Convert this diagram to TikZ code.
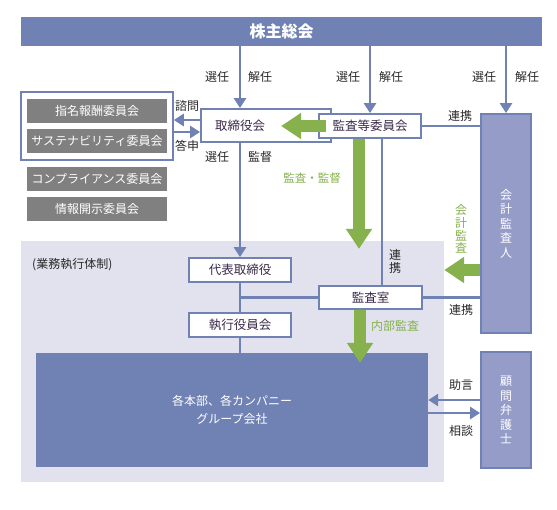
\documentclass[tikz,border=0pt]{standalone}
\usepackage{fontspec}
\setmainfont{Noto Sans CJK JP}
\usetikzlibrary{arrows.meta}
\definecolor{kblue}{RGB}{112,129,180}
\definecolor{klight}{RGB}{149,156,200}
\definecolor{kgray}{RGB}{128,128,128}
\definecolor{kback}{RGB}{226,226,238}
\definecolor{kgreen}{RGB}{134,177,77}
\definecolor{ktext}{RGB}{58,42,74}
\definecolor{klabel}{RGB}{40,40,40}
\begin{document}
\begin{tikzpicture}[x=1pt,y=-1pt,
  wbox/.style={draw=kblue,line width=1.8pt,fill=white,text=ktext,inner sep=0pt,font=\fontsize{12.5}{14}\selectfont},
  gbox/.style={fill=kgray,text=white,minimum width=140pt,minimum height=24pt,inner sep=0pt,font=\fontsize{12}{14}\selectfont},
  lbl/.style={text=klabel,inner sep=0pt,font=\fontsize{12}{14}\selectfont},
  glbl/.style={text=kgreen,inner sep=0pt,font=\fontsize{12}{14}\selectfont},
  vtext/.style={align=center,inner sep=0pt,font=\fontsize{12}{14.5}\selectfont},
  bline/.style={draw=kblue,line width=2.5pt},
  barrow/.style={bline,-{Triangle[width=12pt,length=10pt]}},
  garrow/.style={draw=kgreen,line width=12pt,-{Triangle[width=25pt,length=20pt]}}]
\useasboundingbox (0,0) rectangle (557,509);
% background of the execution block
\node[fill=kback,minimum width=423pt,minimum height=241pt,inner sep=0pt] (gyomu) at (232.5,361.5) {};
\node[fill=kblue,text=white,minimum width=521pt,minimum height=29pt,inner sep=0pt,font=\fontsize{16}{18}\selectfont\bfseries] (kabu) at (281.5,31.5) {株主総会};
% committees
\node[draw=kblue,line width=1.5pt,fill=white,minimum width=152pt,minimum height=68pt] (iinkai) at (97,126) {};
\node[gbox] (shimei) at (97,111) {指名報酬委員会};
\node[gbox] (susu) at (97,141) {サステナビリティ委員会};
\node[gbox] (compl) at (97,179) {コンプライアンス委員会};
\node[gbox] (joho) at (97,209) {情報開示委員会};
% boards
\node[wbox,minimum width=130pt,minimum height=33pt] (tori) at (266,125.5) {};
\node[lbl,text=ktext,font=\fontsize{12.5}{14}\selectfont] (toriT) at (240,126) {取締役会};
\node[wbox,minimum width=102pt,minimum height=24pt] (kansaiin) at (370,126) {監査等委員会};
\node[wbox,fill=klight,text=white,vtext,minimum width=50pt,minimum height=219pt] (kaikei) at (506,223.5) {会\\計\\監\\査\\人};
\node[wbox,fill=klight,text=white,vtext,minimum width=50pt,minimum height=116pt] (komon) at (506,410) {顧\\問\\弁\\護\\士};
\node[wbox,minimum width=102pt,minimum height=24pt] (daihyo) at (240,270) {代表取締役};
\node[wbox,minimum width=102pt,minimum height=24pt] (shikko) at (240,325) {執行役員会};
\node[wbox,minimum width=103pt,minimum height=23pt] (kansashitsu) at (370.5,297.5) {監査室};
\node[fill=kblue,text=white,minimum width=392pt,minimum height=114pt,inner sep=0pt,align=center,font=\fontsize{12}{18}\selectfont] (honbu) at (232,410) {各本部、各カンパニー\\グループ会社};
\node[lbl,anchor=west] (taisei) at (32,265) {(業務執行体制)};
% labels
\node[lbl] (sen1) at (217,77) {選任};
\node[lbl] (kai1) at (260,77) {解任};
\node[lbl] (sen2) at (348,77) {選任};
\node[lbl] (kai2) at (391,77) {解任};
\node[lbl] (sen3) at (484,77) {選任};
\node[lbl] (kai3) at (527,77) {解任};
\node[lbl] (shimon) at (187,106) {諮問};
\node[lbl] (toshin) at (187,146) {答申};
\node[lbl] (sen4) at (217,157) {選任};
\node[lbl] (kantoku) at (260,157) {監督};
\node[lbl] (renkei1) at (460,116) {連携};
\node[lbl,align=center,font=\fontsize{12}{13}\selectfont] (renkei2) at (395,261.5) {連\\携};
\node[lbl] (renkei3) at (461,310) {連携};
\node[lbl] (jogen) at (461,385) {助言};
\node[lbl] (sodan) at (461,431) {相談};
\node[glbl,font=\fontsize{11.5}{14}\selectfont] (kansakantoku) at (312,178) {監査・監督};
\node[glbl,align=center,font=\fontsize{12}{12.7}\selectfont] (kaikeikansa) at (461,229) {会\\計\\監\\査};
\node[glbl] (naibu) at (395,326) {内部監査};
% connectors
\draw[barrow] (kabu.south -| toriT) -- (tori.north -| toriT);
\draw[barrow] (kabu.south -| kansaiin) -- (kansaiin.north);
\draw[barrow] (kabu.south -| kaikei) -- (kaikei.north);
\coordinate (sh) at ([yshift=5.5pt]tori.west);
\coordinate (ts) at ([yshift=-6.5pt]tori.west);
\draw[barrow] (sh) -- (sh -| iinkai.east);
\draw[barrow] (ts -| iinkai.east) -- (ts);
\draw[barrow] (tori.south -| toriT) -- (daihyo.north);
\draw[bline] (daihyo) -- (shikko);
\draw[bline] (shikko) -- (shikko |- honbu.north);
\draw[bline] (kansashitsu) -- (kansashitsu -| daihyo);
\draw[bline] (kansashitsu) -- (kansashitsu -| kaikei.west);
\draw[bline] (kansaiin) -- (kansaiin -| kaikei.west);
\coordinate (kr) at ([xshift=12pt]kansaiin.south);
\draw[bline] (kr) -- (kr |- kansashitsu.north);
\coordinate (jg) at (0,400);
\coordinate (sd) at (0,413);
\draw[barrow] (komon.west |- jg) -- (honbu.east |- jg);
\draw[barrow] (honbu.east |- sd) -- (komon.west |- sd);
% green arrows
\coordinate (kk) at (0,270);
\draw[garrow] ([xshift=8pt]kansaiin.west) -- ([xshift=-37pt]kansaiin.west);
\draw[garrow] ([xshift=-11pt]kansaiin.south) -- ++(0,110);
\draw[garrow] (kaikei.west |- kk) -- (gyomu.east |- kk);
\draw[garrow] ([xshift=-10.5pt]kansashitsu.south) -- ++(0,53);
\end{tikzpicture}
\end{document}
